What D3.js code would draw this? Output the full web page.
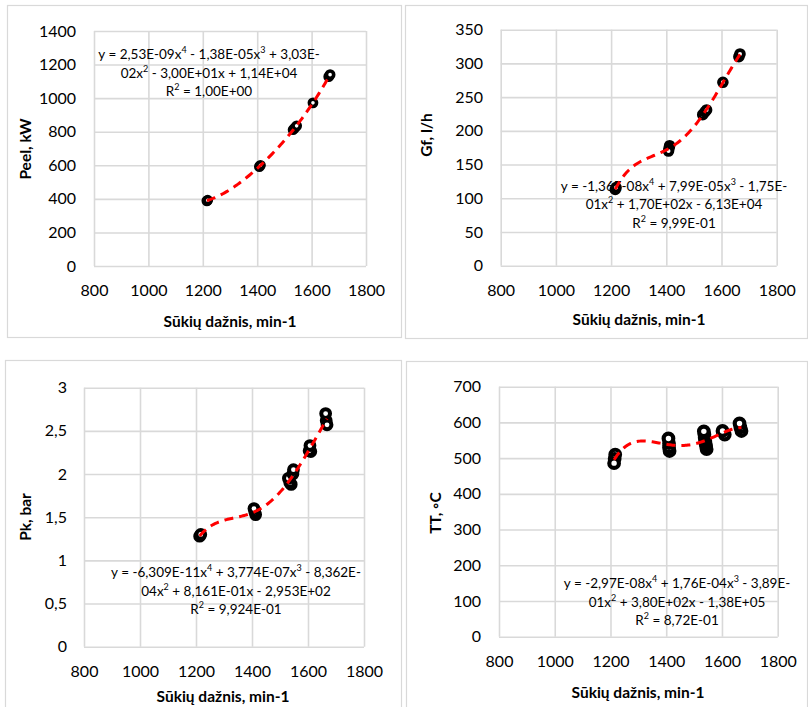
<!DOCTYPE html>
<html>
<head>
<meta charset="utf-8">
<script src="https://cdn.jsdelivr.net/npm/d3@7"></script>
<style>
  html, body { margin: 0; padding: 0; background: #fff; }
  svg { display: block; font-family: Lato, "Open Sans", sans-serif; }
</style>
</head>
<body>
<svg id="chart" width="808" height="707"></svg>
<script>
const peelRpm = [1215, 1218, 1408, 1412, 1532, 1538, 1545, 1605, 1663, 1668];
const peelKw  = [388, 392, 592, 600, 812, 822, 835, 972, 1128, 1140];

const gfRpm = [1215, 1218, 1412, 1410, 1408, 1532, 1540, 1546, 1605, 1663, 1667];
const gfLh  = [113, 116, 178, 174, 170, 224, 228, 231, 272, 310, 314];

const pkRpm = [1213, 1217, 1413, 1410, 1407, 1540, 1535, 1530, 1546, 1548, 1610, 1604, 1607, 1665, 1668, 1663];
const pkBar = [1.28, 1.30, 1.53, 1.56, 1.60, 1.88, 1.90, 1.95, 2.00, 2.05, 2.26, 2.27, 2.33, 2.62, 2.57, 2.70];

const ttRpm = [1217, 1215, 1213, 1412, 1410, 1410, 1408, 1545, 1543, 1541, 1540, 1538, 1537, 1535, 1610, 1602, 1670, 1666, 1663];
const ttC   = [510, 498, 486, 520, 530, 542, 555, 525, 533, 541, 549, 557, 566, 575, 566, 576, 576, 586, 597];

const xTicks = [800, 1000, 1200, 1400, 1600, 1800];
const xTitle = "Sūkių dažnis, min-1";

const yTitles = ["Peel, kW", "Gf, l/h", "Pk, bar", "TT, ◦C"];
const yTickSets = [
  [0, 200, 400, 600, 800, 1000, 1200, 1400],
  [0, 50, 100, 150, 200, 250, 300, 350],
  [0, 0.5, 1, 1.5, 2, 2.5, 3],
  [0, 100, 200, 300, 400, 500, 600, 700]
];

const equations = [
  ["y = 2,53E-09x^4 - 1,38E-05x^3 + 3,03E-", "02x^2 - 3,00E+01x + 1,14E+04", "R^2 = 1,00E+00"],
  ["y = -1,36E-08x^4 + 7,99E-05x^3 - 1,75E-", "01x^2 + 1,70E+02x - 6,13E+04", "R^2 = 9,99E-01"],
  ["y = -6,309E-11x^4 + 3,774E-07x^3 - 8,362E-", "04x^2 + 8,161E-01x - 2,953E+02", "R^2 = 9,924E-01"],
  ["y = -2,97E-08x^4 + 1,76E-04x^3 - 3,89E-", "01x^2 + 3,80E+02x - 1,38E+05", "R^2 = 8,72E-01"]
];

const series = [[peelRpm, peelKw], [gfRpm, gfLh], [pkRpm, pkBar], [ttRpm, ttC]];

// layout of each chart box (pixels)
const panels = [
  { box: [7, 5, 401, 337], px: [94, 366], py: [266, 31], yLab: 76, yTitleX: 25, yTitleY: 149,
    xLabY: 296, xTitleX: 230, xTitleY: 327, eqX: 209, eqY: 59, mr: 3.6, mw: 3.6 },
  { box: [405, 5, 807, 338], px: [500.7, 776.7], py: [265.7, 29.7], yLab: 483, yTitleX: 426, yTitleY: 135,
    xLabY: 296, xTitleX: 639, xTitleY: 325, eqX: 674, eqY: 190.5, mr: 3.9, mw: 3.8 },
  { box: [5, 360, 401, 730], px: [84, 364], py: [646.7, 387.7], yLab: 67, yTitleX: 25, yTitleY: 517,
    xLabY: 677, xTitleX: 223, xTitleY: 702, eqX: 236, eqY: 577, mr: 4.4, mw: 4 },
  { box: [406, 361, 807, 730], px: [499, 777.7], py: [636.7, 386.7], yLab: 481, yTitleX: 435, yTitleY: 513,
    xLabY: 667, xTitleX: 638, xTitleY: 698, eqX: 677, eqY: 588, mr: 4.8, mw: 4.2 }
];

const fmt = d3.formatLocale({ decimal: ",", thousands: " ", grouping: [3], currency: ["", ""] }).format("~g");

// least squares polynomial (x centred/scaled for conditioning)
const polyfit = (xs, ys, deg) => {
  const mx = d3.mean(xs), sx = 250;
  const n = deg + 1;
  const A = Array.from({ length: n }, () => new Array(n + 1).fill(0));
  xs.forEach((x, k) => {
    const t = (x - mx) / sx;
    for (let i = 0; i < n; i++) {
      for (let j = 0; j < n; j++) A[i][j] += Math.pow(t, i + j);
      A[i][n] += Math.pow(t, i) * ys[k];
    }
  });
  for (let c = 0; c < n; c++) {
    let p = c;
    for (let r = c + 1; r < n; r++) if (Math.abs(A[r][c]) > Math.abs(A[p][c])) p = r;
    [A[c], A[p]] = [A[p], A[c]];
    for (let r = 0; r < n; r++) {
      if (r === c) continue;
      const f = A[r][c] / A[c][c];
      for (let j = c; j <= n; j++) A[r][j] -= f * A[c][j];
    }
  }
  const coef = A.map((row, i) => row[n] / row[i]);
  return x => {
    const t = (x - mx) / sx;
    return coef.reduce((s, c, i) => s + c * Math.pow(t, i), 0);
  };
};

const svg = d3.select("#chart");

panels.forEach((p, i) => {
  const [xs, ys] = series[i];
  const yTicks = yTickSets[i];
  const g = svg.append("g");

  g.append("rect")
    .attr("x", p.box[0] + 0.5).attr("y", p.box[1] + 0.5)
    .attr("width", p.box[2] - p.box[0]).attr("height", p.box[3] - p.box[1])
    .attr("fill", "#fff").attr("stroke", "#d9d9d9").attr("stroke-width", 1.2);

  const x = d3.scaleLinear().domain([800, 1800]).range(p.px);
  const y = d3.scaleLinear().domain([0, d3.max(yTicks)]).range(p.py);

  const yAxis = g.append("g")
    .attr("transform", `translate(${p.px[0]},0)`)
    .call(d3.axisLeft(y).tickValues(yTicks).tickFormat(fmt)
      .tickSize(-(p.px[1] - p.px[0])).tickPadding(p.px[0] - p.yLab));

  const xAxis = g.append("g")
    .attr("transform", `translate(0,${p.py[0]})`)
    .call(d3.axisBottom(x).tickValues(xTicks).tickFormat(d3.format("d"))
      .tickSize(-(p.py[0] - p.py[1])));

  [yAxis, xAxis].forEach(a => {
    a.select(".domain").remove();
    a.selectAll(".tick line").attr("stroke", "#d9d9d9").attr("stroke-width", 1.6);
    a.selectAll(".tick text").attr("fill", "#000").attr("font-size", 16)
      .attr("font-family", "Lato, sans-serif");
  });
  xAxis.selectAll(".tick text").attr("dy", null).attr("y", p.xLabY - p.py[0]);

  // axis titles
  g.append("text")
    .attr("x", p.xTitleX).attr("y", p.xTitleY)
    .attr("text-anchor", "middle").attr("font-size", 15.5).attr("font-weight", 700)
    .text(xTitle);
  g.append("text")
    .attr("transform", `translate(${p.yTitleX + 5.5},${p.yTitleY}) rotate(-90)`)
    .attr("text-anchor", "middle").attr("font-size", 15.5).attr("font-weight", 700)
    .text(yTitles[i]);

  // trendline equation label
  const eq = g.append("text").attr("text-anchor", "middle").attr("font-size", 13.5).attr("fill", "#000");
  equations[i].forEach((line, li) => {
    const parts = line.split(/\^(\d)/);
    parts.forEach((part, k) => {
      const sup = k % 2 === 1;
      const t = eq.append("tspan").text(part);
      if (k === 0) t.attr("x", p.eqX).attr("y", p.eqY + li * 18.5);
      if (sup) t.attr("font-size", 9).attr("dy", -6);
      else if (k > 0) t.attr("dy", 6);
    });
  });

  // markers
  g.append("g").selectAll("circle")
    .data(xs.map((v, k) => [v, ys[k]]))
    .join("circle")
    .attr("cx", d => x(d[0])).attr("cy", d => y(d[1]))
    .attr("r", p.mr)
    .attr("fill", "#fff").attr("stroke", "#000").attr("stroke-width", p.mw);

  // 4th order polynomial trendline
  const f = polyfit(xs, ys, 4);
  const [lo, hi] = d3.extent(xs);
  const pts = d3.range(0, 101).map(k => lo + (hi - lo) * k / 100);
  g.append("path")
    .attr("d", d3.line().x(d => x(d)).y(d => y(f(d)))(pts))
    .attr("fill", "none").attr("stroke", "#ff0000").attr("stroke-width", 3)
    .attr("stroke-dasharray", "9,6");
});
</script>
</body>
</html>
